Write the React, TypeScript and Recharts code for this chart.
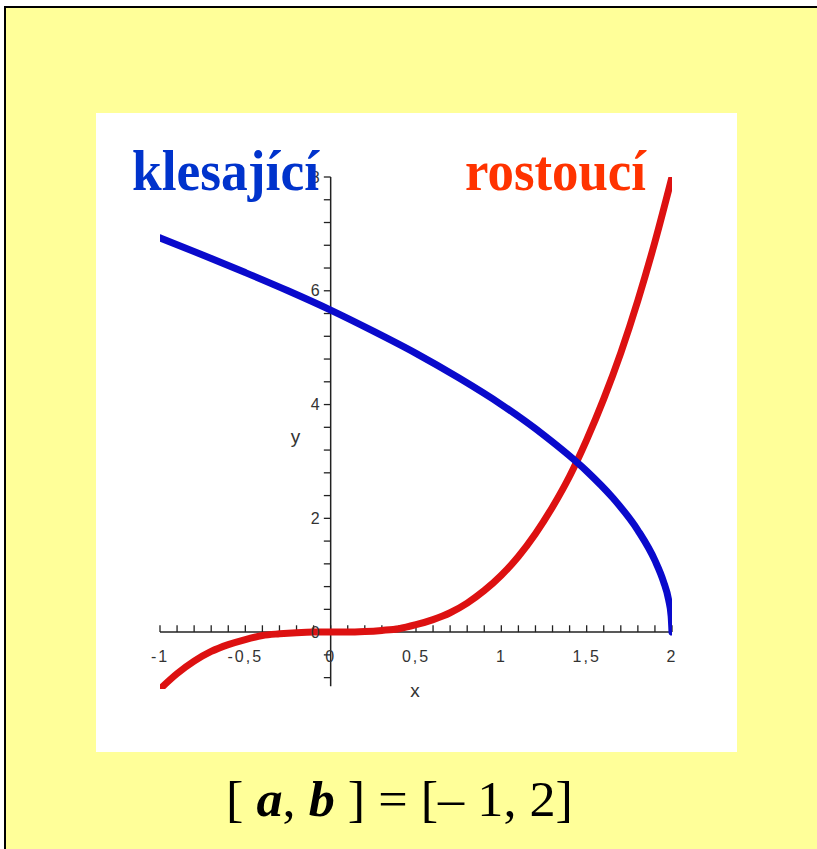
import React from 'react';
import { LineChart, Line, XAxis, YAxis, ReferenceLine, ReferenceDot } from 'recharts';

// decreasing curve (blue)
const blueX = [-1, -0.75, -0.5, -0.25, 0, 0.25, 0.5, 0.75, 1, 1.25, 1.5, 1.65, 1.8, 1.9, 1.95, 1.98, 1.995, 2];
const blueY = [6.93, 6.63, 6.32, 6.0, 5.66, 5.29, 4.9, 4.47, 4.0, 3.46, 2.83, 2.37, 1.79, 1.26, 0.89, 0.57, 0.28, 0];

// increasing curve (red)
const redX = [-1, -0.9, -0.8, -0.7, -0.6, -0.5, -0.4, -0.3, -0.2, -0.1, 0, 0.1, 0.2, 0.3, 0.4, 0.5, 0.6, 0.7, 0.8, 0.9, 1, 1.1, 1.2, 1.3, 1.4, 1.5, 1.6, 1.7, 1.8, 1.9, 2];
const redY = [-1, -0.73, -0.51, -0.34, -0.22, -0.13, -0.06, -0.03, -0.01, 0, 0, 0, 0.01, 0.03, 0.06, 0.13, 0.22, 0.34, 0.51, 0.73, 1, 1.33, 1.73, 2.2, 2.74, 3.38, 4.1, 4.91, 5.83, 6.86, 8];

// axis ticks and labels
const xMinorTicks = [-1, -0.9, -0.8, -0.7, -0.6, -0.5, -0.4, -0.3, -0.2, -0.1, 0, 0.1, 0.2, 0.3, 0.4, 0.5, 0.6, 0.7, 0.8, 0.9, 1, 1.1, 1.2, 1.3, 1.4, 1.5, 1.6, 1.7, 1.8, 1.9, 2];
const yMinorTicks = [-0.8, -0.4, 0, 0.4, 0.8, 1.2, 1.6, 2, 2.4, 2.8, 3.2, 3.6, 4, 4.4, 4.8, 5.2, 5.6, 6, 6.4, 6.8, 7.2, 7.6, 8];
const xLabelValues = [-1, -0.5, 0, 0.5, 1, 1.5, 2];
const xLabelTexts = ['-1', '-0,5', '0', '0,5', '1', '1,5', '2'];
const yLabelValues = [0, 2, 4, 6, 8];
const yLabelTexts = ['0', '2', '4', '6', '8'];

const blueData = blueX.map((x, i) => ({ x, y: blueY[i] }));
const redData = redX.map((x, i) => ({ x, y: redY[i] }));

const axisColor = '#222';
const labelStyle = { fill: '#333', fontSize: 16, fontFamily: 'Liberation Sans, Arial, sans-serif', letterSpacing: 2 };

export default function App() {
  return (
    <div style={{ position: 'absolute', left: 0, top: 0, width: 817, height: 849, background: '#fff', overflow: 'hidden' }}>
      <div style={{ position: 'absolute', left: 4, top: 6, width: 900, height: 900, background: '#FFFF99', border: '2px solid #000', boxSizing: 'border-box' }} />
      <div style={{ position: 'absolute', left: 96, top: 113, width: 641, height: 639, background: '#fff' }}>
        <LineChart width={641} height={639} margin={{ top: 64, right: 65, bottom: 63, left: 64 }}>
          <XAxis dataKey="x" type="number" domain={[-1, 2]} hide allowDataOverflow />
          <YAxis dataKey="y" type="number" domain={[-1, 8]} hide allowDataOverflow />
          <ReferenceLine segment={[{ x: -1, y: 0 }, { x: 2, y: 0 }]} stroke={axisColor} strokeWidth={1.5} ifOverflow="visible" />
          <ReferenceLine segment={[{ x: 0, y: -0.95 }, { x: 0, y: 8 }]} stroke={axisColor} strokeWidth={1.5} ifOverflow="visible" />
          {xMinorTicks.map((t) => (
            <ReferenceLine key={'xt' + t} segment={[{ x: t, y: 0 }, { x: t, y: 0.12 }]} stroke={axisColor} strokeWidth={1.3} ifOverflow="visible" />
          ))}
          {yMinorTicks.map((t) => (
            <ReferenceLine key={'yt' + t} segment={[{ x: -0.04, y: t }, { x: 0, y: t }]} stroke={axisColor} strokeWidth={1.3} ifOverflow="visible" />
          ))}
          {xLabelValues.map((v, i) => (
            <ReferenceDot key={'xl' + v} x={v} y={0} r={0} fill="none" stroke="none" ifOverflow="visible"
              label={{ value: xLabelTexts[i], position: 'bottom', offset: 19, ...labelStyle }} />
          ))}
          {yLabelValues.map((v, i) => (
            <ReferenceDot key={'yl' + v} x={0} y={v} r={0} fill="none" stroke="none" ifOverflow="visible"
              label={{ value: yLabelTexts[i], position: 'left', offset: 9, ...labelStyle }} />
          ))}
          <ReferenceDot x={0.5} y={-1.02} r={0} fill="none" stroke="none" ifOverflow="visible"
            label={{ value: 'x', position: 'center', ...labelStyle, fontSize: 19 }} />
          <ReferenceDot x={-0.2} y={3.45} r={0} fill="none" stroke="none" ifOverflow="visible"
            label={{ value: 'y', position: 'center', ...labelStyle, fontSize: 19 }} />
          <Line data={redData} dataKey="y" type="monotone" stroke="#DD1111" strokeWidth={7} dot={false} isAnimationActive={false} strokeLinecap="round" />
          <Line data={blueData} dataKey="y" type="monotone" stroke="#0A0ACC" strokeWidth={7} dot={false} isAnimationActive={false} strokeLinecap="round" />
        </LineChart>
      </div>
      <svg width={817} height={849} style={{ position: 'absolute', left: 0, top: 0, pointerEvents: 'none' }}>
        <text x={132} y={190} fontFamily="Liberation Serif, Times New Roman, serif" fontWeight="bold" fontSize={57} fill="#0033CC" textLength={187} lengthAdjust="spacingAndGlyphs">klesající</text>
        <text x={465} y={190} fontFamily="Liberation Serif, Times New Roman, serif" fontWeight="bold" fontSize={57} fill="#FF3300" textLength={181} lengthAdjust="spacingAndGlyphs">rostoucí</text>
        <text x={226} y={816} fontFamily="Liberation Serif, Times New Roman, serif" fontSize={50} fill="#000" textLength={347} lengthAdjust="spacingAndGlyphs">
          <tspan>[ </tspan>
          <tspan fontWeight="bold" fontStyle="italic">a</tspan>
          <tspan>, </tspan>
          <tspan fontWeight="bold" fontStyle="italic">b</tspan>
          <tspan> ] = [– 1, 2]</tspan>
        </text>
      </svg>
    </div>
  );
}
